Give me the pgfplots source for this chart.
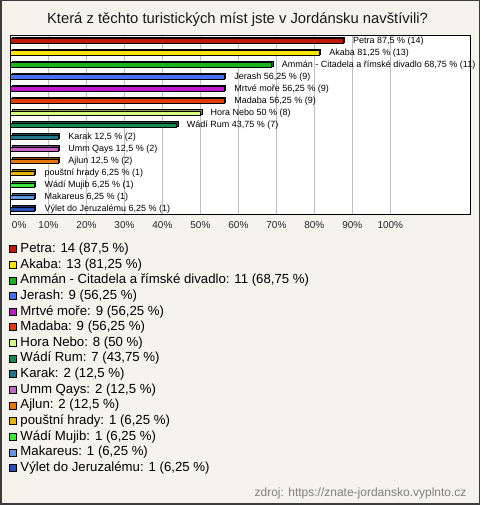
\documentclass[border=0pt]{standalone}
\usepackage{pgfplots}
\pgfplotsset{compat=1.18}
\usepackage{fontspec}
\setmainfont{Liberation Sans}

\definecolor{bgc}{RGB}{244,243,236}
\definecolor{frame}{RGB}{60,60,60}
\definecolor{cPetra}{RGB}{192,24,10}
\definecolor{cAkaba}{RGB}{255,228,0}
\definecolor{cAmman}{RGB}{24,180,24}
\definecolor{cJerash}{RGB}{72,112,240}
\definecolor{cMrtve}{RGB}{190,24,205}
\definecolor{cMadaba}{RGB}{225,60,10}
\definecolor{cNebo}{RGB}{212,255,125}
\definecolor{cRum}{RGB}{20,140,80}
\definecolor{cKarak}{RGB}{30,120,140}
\definecolor{cUmm}{RGB}{200,100,200}
\definecolor{cAjlun}{RGB}{230,120,10}
\definecolor{cHrady}{RGB}{230,180,10}
\definecolor{cMujib}{RGB}{60,230,60}
\definecolor{cMakareus}{RGB}{100,150,230}
\definecolor{cVylet}{RGB}{40,80,180}

% #1 colour, #2 value (%), #3 row, #4 label
\newcommand{\jbar}[4]{%
  \addplot[xbar, bar width=4.6pt, bar shift=0pt, fill=#1!60!black, draw=black,
    line width=0.55pt, xshift=1.5pt, yshift=1.5pt, forget plot,
    nodes near coords={#4},
    nodes near coords style={font=\fontsize{9}{10}\selectfont, inner sep=0pt,
      anchor=west, xshift=8.5pt, yshift=-1.2pt, text=black}]
    coordinates {(#2,#3)};
  \addplot[xbar, bar width=4.6pt, bar shift=0pt, fill=#1, draw=black, line width=0.55pt]
    coordinates {(#2,#3)};
}

\begin{document}
\begin{tikzpicture}
\useasboundingbox (0,0) rectangle (480pt,505pt);
\fill[bgc] (0,0) rectangle (480pt,505pt);
\draw[frame, line width=1.5pt] (0.75pt,0.75pt) rectangle (479.25pt,504.25pt);
\node[anchor=base, font=\fontsize{14.8}{17}\selectfont, text=black!90] at (237.5pt,481pt)
  {Která z těchto turistických míst jste v Jordánsku navštívili?};
\node[anchor=base east, font=\fontsize{12}{14}\selectfont, text=black!50] at (470pt,8.5pt)
  {zdroj: https://znate-jordansko.vyplnto.cz};
\begin{axis}[
  at={(10.5pt,291pt)}, anchor=south west,
  scale only axis, width=460pt, height=179pt,
  xmin=0, xmax=121.1, ymin=-0.5, ymax=14.4, y dir=reverse,
  ytick=\empty,
  xtick={0,10,20,30,40,50,60,70,80,90,100},
  xticklabels={\makebox[0pt][l]{\hspace{1.5pt}0\%},10\%,20\%,30\%,40\%,50\%,60\%,70\%,80\%,90\%,100\%},
  xticklabel style={font=\fontsize{10}{12}\selectfont, text=black!85, inner sep=0pt, yshift=-7.5pt},
  xmajorgrids, grid style={black!25, line width=0.7pt},
  major tick length=0pt,
  axis line style={black, line width=0.8pt},
  axis background/.style={fill=white},
  clip=false,
  legend image code/.code={\draw[#1, line width=0.5pt, draw=black] (0pt,-3.5pt) rectangle (7pt,3.5pt);},
  legend style={at={(-0.00326,-0.1592)}, anchor=north west, draw=none, fill=none,
    inner sep=0pt, outer sep=0pt, column sep=4pt, row sep=2.64pt,
    nodes={inner sep=0pt, text height=10pt, text depth=3pt},
    font=\fontsize{13.2}{15}\selectfont},
  legend cell align=left,
  legend entries={{Petra: 14 (87,5 \%)},{Akaba: 13 (81,25 \%)},{Ammán - Citadela a římské divadlo: 11 (68,75 \%)},{Jerash: 9 (56,25 \%)},{Mrtvé moře: 9 (56,25 \%)},{Madaba: 9 (56,25 \%)},{Hora Nebo: 8 (50 \%)},{Wádí Rum: 7 (43,75 \%)},{Karak: 2 (12,5 \%)},{Umm Qays: 2 (12,5 \%)},{Ajlun: 2 (12,5 \%)},{pouštní hrady: 1 (6,25 \%)},{Wádí Mujib: 1 (6,25 \%)},{Makareus: 1 (6,25 \%)},{Výlet do Jeruzalému: 1 (6,25 \%)}},
]
\jbar{cPetra}{87.5}{0}{Petra 87,5 \% (14)}
\jbar{cAkaba}{81.25}{1}{Akaba 81,25 \% (13)}
\jbar{cAmman}{68.75}{2}{Ammán - Citadela a římské divadlo 68,75 \% (11)}
\jbar{cJerash}{56.25}{3}{Jerash 56,25 \% (9)}
\jbar{cMrtve}{56.25}{4}{Mrtvé moře 56,25 \% (9)}
\jbar{cMadaba}{56.25}{5}{Madaba 56,25 \% (9)}
\jbar{cNebo}{50}{6}{Hora Nebo 50 \% (8)}
\jbar{cRum}{43.75}{7}{Wádí Rum 43,75 \% (7)}
\jbar{cKarak}{12.5}{8}{Karak 12,5 \% (2)}
\jbar{cUmm}{12.5}{9}{Umm Qays 12,5 \% (2)}
\jbar{cAjlun}{12.5}{10}{Ajlun 12,5 \% (2)}
\jbar{cHrady}{6.25}{11}{pouštní hrady 6,25 \% (1)}
\jbar{cMujib}{6.25}{12}{Wádí Mujib 6,25 \% (1)}
\jbar{cMakareus}{6.25}{13}{Makareus 6,25 \% (1)}
\jbar{cVylet}{6.25}{14}{Výlet do Jeruzalému 6,25 \% (1)}
\end{axis}
\end{tikzpicture}
\end{document}
